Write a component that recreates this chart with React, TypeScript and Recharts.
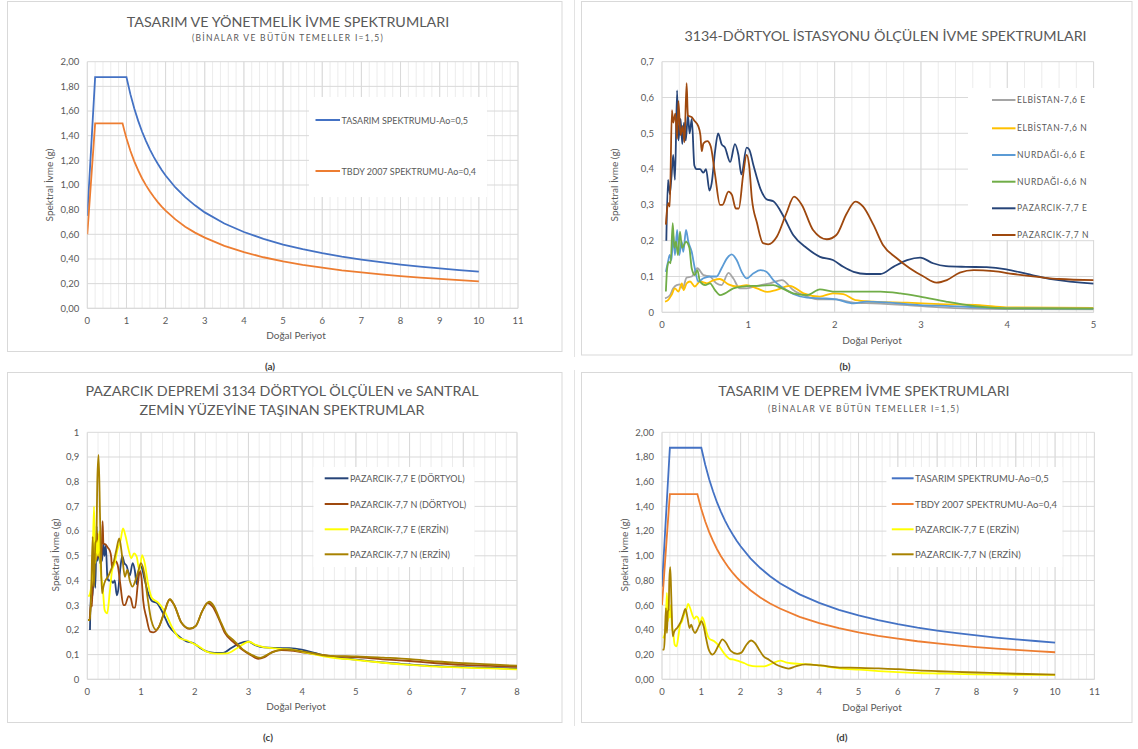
import React from 'react';
import { LineChart, Line, XAxis, YAxis, CartesianGrid } from 'recharts';

type Pt = [number, number];

// ---------- design spectra (period, Sa) ----------
const TASARIM: Pt[] = [[0,0.75],[0.2,1.875],[1.0,1.875],[1.1,1.737],[1.2,1.62],[1.3,1.52],[1.4,1.432],[1.5,1.356],[1.6,1.287],[1.7,1.226],[1.8,1.172],[1.9,1.122],[2.0,1.077],[2.25,0.98],[2.5,0.901],[2.75,0.835],[3.0,0.778],[3.5,0.688],[4.0,0.619],[4.5,0.563],[5.0,0.517],[5.5,0.479],[6.0,0.447],[6.5,0.419],[7.0,0.395],[7.5,0.374],[8.0,0.355],[8.5,0.338],[9.0,0.323],[9.5,0.31],[10.0,0.297]];
const TBDY: Pt[] = [[0,0.6],[0.2,1.5],[0.9,1.5],[0.95,1.437],[1.0,1.379],[1.1,1.278],[1.2,1.192],[1.3,1.118],[1.4,1.053],[1.5,0.997],[1.6,0.947],[1.7,0.902],[1.8,0.861],[1.9,0.825],[2.0,0.792],[2.25,0.721],[2.5,0.662],[2.75,0.614],[3.0,0.573],[3.5,0.506],[4.0,0.455],[4.5,0.414],[5.0,0.38],[5.5,0.352],[6.0,0.329],[6.5,0.308],[7.0,0.291],[7.5,0.275],[8.0,0.261],[8.5,0.249],[9.0,0.238],[9.5,0.228],[10.0,0.219]];

// ---------- 3134 Dörtyol recorded spectra ----------
const ELB_E: Pt[] = [[0.035,0.039],[0.09,0.047],[0.13,0.067],[0.17,0.076],[0.21,0.078],[0.24,0.067],[0.285,0.097],[0.345,0.1],[0.41,0.123],[0.48,0.104],[0.555,0.1],[0.63,0.081],[0.69,0.076],[0.77,0.11],[0.825,0.095],[0.9,0.067],[0.98,0.067],[1.1,0.074],[1.25,0.081],[1.39,0.09],[1.52,0.062],[1.68,0.044],[1.83,0.036],[2.02,0.036],[2.22,0.027],[2.45,0.025],[2.84,0.02],[3.22,0.014],[3.99,0.009],[5.0,0.008]];
const ELB_N: Pt[] = [[0.035,0.03],[0.07,0.034],[0.11,0.048],[0.15,0.067],[0.19,0.058],[0.23,0.081],[0.25,0.062],[0.285,0.081],[0.325,0.086],[0.38,0.072],[0.44,0.086],[0.52,0.081],[0.6,0.09],[0.67,0.093],[0.77,0.078],[0.865,0.072],[0.98,0.076],[1.1,0.067],[1.22,0.057],[1.32,0.062],[1.48,0.074],[1.64,0.053],[1.83,0.044],[1.98,0.053],[2.1,0.051],[2.24,0.034],[2.45,0.03],[2.84,0.027],[3.22,0.023],[3.68,0.02],[3.99,0.014],[5.0,0.012]];
const NUR_E: Pt[] = [[0.045,0.113],[0.07,0.141],[0.09,0.16],[0.11,0.146],[0.13,0.216],[0.15,0.16],[0.175,0.23],[0.2,0.16],[0.228,0.197],[0.247,0.169],[0.278,0.23],[0.305,0.197],[0.344,0.169],[0.38,0.123],[0.42,0.086],[0.48,0.095],[0.555,0.1],[0.633,0.1],[0.69,0.123],[0.75,0.15],[0.807,0.162],[0.865,0.146],[0.923,0.113],[0.98,0.095],[1.06,0.109],[1.14,0.118],[1.21,0.113],[1.29,0.09],[1.41,0.067],[1.52,0.051],[1.68,0.041],[1.87,0.039],[2.02,0.036],[2.22,0.025],[2.37,0.03],[2.64,0.027],[2.99,0.02],[3.29,0.018],[3.99,0.011],[5.0,0.01]];
const NUR_N: Pt[] = [[0.045,0.058],[0.06,0.123],[0.08,0.141],[0.1,0.137],[0.124,0.249],[0.143,0.18],[0.162,0.197],[0.185,0.16],[0.208,0.225],[0.232,0.18],[0.278,0.197],[0.317,0.18],[0.344,0.123],[0.38,0.104],[0.41,0.118],[0.44,0.086],[0.5,0.076],[0.556,0.081],[0.614,0.062],[0.672,0.048],[0.73,0.053],[0.826,0.067],[0.94,0.072],[1.1,0.074],[1.29,0.076],[1.39,0.067],[1.52,0.053],[1.68,0.048],[1.83,0.064],[1.98,0.058],[2.22,0.058],[2.53,0.058],[2.76,0.053],[2.99,0.044],[3.29,0.03],[3.6,0.018],[3.99,0.011],[5.0,0.01]];
const PAZ_E: Pt[] = [[0.05,0.2],[0.07,0.37],[0.09,0.33],[0.11,0.38],[0.13,0.44],[0.15,0.37],[0.175,0.62],[0.19,0.48],[0.215,0.54],[0.235,0.47],[0.255,0.53],[0.275,0.48],[0.3,0.55],[0.32,0.5],[0.345,0.54],[0.375,0.41],[0.4,0.4],[0.44,0.4],[0.48,0.39],[0.51,0.4],[0.55,0.34],[0.575,0.36],[0.615,0.45],[0.65,0.5],[0.69,0.47],[0.73,0.46],[0.79,0.42],[0.845,0.47],[0.885,0.44],[0.92,0.385],[0.98,0.46],[1.01,0.455],[1.06,0.41],[1.14,0.345],[1.21,0.316],[1.29,0.31],[1.41,0.267],[1.52,0.216],[1.68,0.179],[1.83,0.155],[1.98,0.146],[2.1,0.127],[2.22,0.113],[2.37,0.107],[2.53,0.107],[2.68,0.127],[2.84,0.146],[2.99,0.153],[3.14,0.137],[3.29,0.129],[3.52,0.127],[3.76,0.126],[3.99,0.12],[4.23,0.107],[4.53,0.092],[5.0,0.08],[5.5,0.068],[6.0,0.06],[6.5,0.053],[7.0,0.049],[7.5,0.046],[8.0,0.043]];
const PAZ_N: Pt[] = [[0.045,0.245],[0.06,0.29],[0.075,0.305],[0.09,0.295],[0.115,0.565],[0.13,0.53],[0.155,0.555],[0.175,0.485],[0.19,0.59],[0.215,0.495],[0.24,0.52],[0.26,0.475],[0.285,0.64],[0.3,0.55],[0.345,0.545],[0.375,0.535],[0.42,0.52],[0.445,0.495],[0.46,0.45],[0.48,0.472],[0.525,0.478],[0.565,0.463],[0.615,0.384],[0.672,0.3],[0.7,0.3],[0.77,0.337],[0.81,0.328],[0.855,0.29],[0.89,0.29],[0.94,0.384],[0.98,0.44],[1.01,0.41],[1.04,0.32],[1.1,0.25],[1.17,0.193],[1.23,0.19],[1.33,0.211],[1.44,0.276],[1.53,0.323],[1.62,0.3],[1.75,0.23],[1.91,0.204],[2.02,0.216],[2.14,0.276],[2.24,0.309],[2.33,0.295],[2.45,0.244],[2.56,0.188],[2.72,0.151],[2.87,0.123],[3.03,0.1],[3.18,0.083],[3.3,0.09],[3.45,0.111],[3.61,0.118],[3.84,0.115],[4.07,0.107],[4.38,0.098],[4.6,0.093],[5.0,0.09],[5.5,0.081],[6.0,0.074],[6.5,0.065],[7.0,0.058],[7.5,0.054],[8.0,0.05]];

// ---------- spectra transferred to the plant (Erzin) ----------
const ERZ_E: Pt[] = [[0.025,0.334],[0.063,0.36],[0.094,0.44],[0.125,0.7],[0.15,0.47],[0.174,0.564],[0.2,0.5],[0.224,0.6],[0.25,0.44],[0.286,0.375],[0.323,0.28],[0.37,0.267],[0.416,0.348],[0.46,0.44],[0.51,0.47],[0.56,0.523],[0.62,0.564],[0.665,0.611],[0.715,0.577],[0.77,0.523],[0.82,0.49],[0.87,0.51],[0.92,0.496],[0.97,0.44],[1.02,0.503],[1.07,0.47],[1.13,0.388],[1.2,0.33],[1.32,0.31],[1.44,0.275],[1.58,0.21],[1.72,0.166],[1.85,0.158],[1.97,0.145],[2.1,0.13],[2.22,0.112],[2.4,0.104],[2.6,0.105],[2.8,0.128],[3.01,0.152],[3.15,0.138],[3.28,0.13],[3.5,0.125],[3.78,0.121],[4.08,0.108],[4.52,0.089],[5.02,0.078],[5.51,0.067],[6.0,0.058],[6.5,0.051],[7.03,0.047],[7.5,0.044],[8.0,0.04],[9.0,0.037],[10.0,0.035]];
const ERZ_N: Pt[] = [[0.013,0.24],[0.05,0.24],[0.075,0.375],[0.1,0.577],[0.125,0.375],[0.15,0.55],[0.168,0.564],[0.187,0.807],[0.21,0.908],[0.236,0.672],[0.255,0.47],[0.274,0.348],[0.3,0.375],[0.336,0.4],[0.385,0.415],[0.435,0.44],[0.485,0.47],[0.54,0.523],[0.595,0.57],[0.65,0.496],[0.7,0.415],[0.745,0.443],[0.79,0.4],[0.84,0.375],[0.895,0.4],[0.955,0.443],[1.0,0.47],[1.06,0.43],[1.12,0.334],[1.19,0.24],[1.285,0.2],[1.33,0.211],[1.44,0.276],[1.54,0.324],[1.62,0.3],[1.75,0.23],[1.91,0.206],[2.02,0.216],[2.14,0.276],[2.27,0.314],[2.36,0.295],[2.47,0.24],[2.58,0.188],[2.72,0.159],[2.9,0.12],[3.05,0.1],[3.22,0.087],[3.4,0.105],[3.65,0.121],[4.03,0.112],[4.52,0.095],[5.02,0.093],[5.51,0.088],[6.01,0.082],[6.51,0.072],[7.03,0.065],[7.5,0.06],[8.0,0.055],[9.0,0.045],[10.0,0.038]];

// ---------- ticks ----------
const X_TICKS_11 = [0,1,2,3,4,5,6,7,8,9,10,11];
const X_TICKS_5 = [0,1,2,3,4,5];
const X_TICKS_8 = [0,1,2,3,4,5,6,7,8];
const Y_TICKS_2 = [0,0.2,0.4,0.6,0.8,1.0,1.2,1.4,1.6,1.8,2.0];
const Y_TICKS_07 = [0,0.1,0.2,0.3,0.4,0.5,0.6,0.7];
const Y_TICKS_1 = [0,0.1,0.2,0.3,0.4,0.5,0.6,0.7,0.8,0.9,1.0];

// ---------- series labels & colours ----------
const C_TAS = '#4472c4', C_TBDY = '#ed7d31', C_ELBE = '#a5a5a5', C_ELBN = '#ffc000', C_NURE = '#5b9bd5', C_NURN = '#70ad47', C_PAZE = '#264478', C_PAZN = '#9e480e', C_ERZE = '#ffff00', C_ERZN = '#a88200';
const L_TAS = 'TASARIM SPEKTRUMU-Ao=0,5';
const L_TBDY = 'TBDY 2007 SPEKTRUMU-Ao=0,4';

const FONT = 'Lato, "Open Sans", "DejaVu Sans", sans-serif';
const TXT = '#595959';
const tickStyle = { fill: TXT, fontSize: 9.5, fontFamily: FONT };

const toData = (pts: Pt[], max = 1e9) => pts.filter((p) => p[0] <= max + 1e-9).map(([x, y]) => ({ x, y }));
const fmt2 = (v: number) => v.toFixed(2).replace('.', ',');
const fmt1 = (v: number) => (Math.abs(v) < 1e-9 ? '0' : Math.abs(v - 1) < 1e-9 ? '1' : v.toFixed(1).replace('.', ','));

function minorGen(step: number, max: number) {
  const vals: number[] = [];
  for (let i = 0; i * step <= max + 1e-9; i++) vals.push(+(i * step).toFixed(4));
  return (props: any) => {
    const { xAxis, offset } = props || {};
    if (xAxis && typeof xAxis.scale === 'function') {
      const r = vals.map((v) => xAxis.scale(v)).filter((v: any) => typeof v === 'number' && isFinite(v));
      if (r.length === vals.length) return r;
    }
    return vals.map((v) => offset.left + (v / max) * offset.width);
  };
}

const minor11 = minorGen(0.2, 11);
const minor5 = minorGen(0.2, 5);
const minor8 = minorGen(0.2, 8);

const lineProps = { dataKey: 'y', dot: false, isAnimationActive: false, strokeWidth: 1.8 } as const;

type LegendItem = { name: string; color: string };
function LegendBox({ x, y, w, h, rows, lx1, lx2, items, size = 9, spacing = 0 }: { x: number; y: number; w: number; h: number; rows: number[]; lx1: number; lx2: number; items: LegendItem[]; size?: number; spacing?: number }) {
  return (
    <g>
      <rect x={x} y={y} width={w} height={h} fill="#ffffff" />
      {items.map((it, i) => (
        <g key={it.name}>
          <line x1={lx1} x2={lx2} y1={rows[i]} y2={rows[i]} stroke={it.color} strokeWidth={2} />
          <text x={lx2 + 1.5} y={rows[i]} dominantBaseline="central" fontSize={size} letterSpacing={spacing} fill={TXT} fontFamily={FONT}>{it.name}</text>
        </g>
      ))}
    </g>
  );
}

const T = (props: any) => <text fill={TXT} fontFamily={FONT} textAnchor="middle" dominantBaseline="central" {...props} />;

export default function App() {
  const axisX = { dataKey: 'x', type: 'number' as const, height: 25, tickLine: false, axisLine: { stroke: '#d9d9d9' }, tick: tickStyle, tickMargin: 3, interval: 0 as const, allowDataOverflow: true };
  const axisY = { type: 'number' as const, width: 60, tickLine: false, axisLine: false, tick: tickStyle, interval: 0 as const, tickMargin: 2 };
  return (
    <div style={{ position: 'absolute', left: 0, top: 0, width: 1138, height: 749, background: '#ffffff', fontFamily: FONT }}>
      {/* background: frames, titles, axis titles, captions */}
      <svg width={1138} height={749} style={{ position: 'absolute', left: 0, top: 0 }}>
        <rect x={7.5} y={1.5} width={554.5} height={350} fill="none" stroke="#d9d9d9" />
        <rect x={581.5} y={1.5} width={550.5} height={353.5} fill="none" stroke="#d9d9d9" />
        <rect x={7.5} y={372.5} width={554.5} height={350} fill="none" stroke="#d9d9d9" />
        <rect x={581.5} y={372.5} width={550.5} height={350} fill="none" stroke="#d9d9d9" />
        <line x1={574.5} x2={574.5} y1={0} y2={357} stroke="#e3e3e3" />
        <line x1={574.5} x2={574.5} y1={370} y2={726} stroke="#e3e3e3" />

        <T x={288} y={21} fontSize={14.3}>TASARIM VE YÖNETMELİK İVME SPEKTRUMLARI</T>
        <T x={288} y={37.5} fontSize={8.5} letterSpacing={1.3}>(BİNALAR VE BÜTÜN TEMELLER I=1,5)</T>
        <T x={49} y={185} fontSize={10} transform="rotate(-90 49 185)">Spektral İvme (g)</T>
        <T x={296} y={335} fontSize={10}>Doğal Periyot</T>
        <T x={270} y={366} fontSize={10} fontWeight="bold" fill="#404040">(a)</T>

        <T x={885.5} y={35} fontSize={14.3}>3134-DÖRTYOL İSTASYONU ÖLÇÜLEN İVME SPEKTRUMLARI</T>
        <T x={613.5} y={185} fontSize={10} transform="rotate(-90 613.5 185)">Spektral İvme (g)</T>
        <T x={872} y={340} fontSize={10}>Doğal Periyot</T>
        <T x={845} y={366} fontSize={10} fontWeight="bold" fill="#404040">(b)</T>

        <T x={282} y={390} fontSize={14.3}>PAZARCIK DEPREMİ 3134 DÖRTYOL ÖLÇÜLEN ve SANTRAL</T>
        <T x={282} y={409.5} fontSize={14.3}>ZEMİN YÜZEYİNE TAŞINAN SPEKTRUMLAR</T>
        <T x={54.5} y={555} fontSize={10} transform="rotate(-90 54.5 555)">Spektral İvme (g)</T>
        <T x={296} y={706} fontSize={10}>Doğal Periyot</T>
        <T x={268} y={737} fontSize={10} fontWeight="bold" fill="#404040">(c)</T>

        <T x={864} y={390.5} fontSize={14.3}>TASARIM VE DEPREM İVME SPEKTRUMLARI</T>
        <T x={864} y={408.5} fontSize={8.5} letterSpacing={1.3}>(BİNALAR VE BÜTÜN TEMELLER I=1,5)</T>
        <T x={624} y={555} fontSize={10} transform="rotate(-90 624 555)">Spektral İvme (g)</T>
        <T x={872} y={706.5} fontSize={10}>Doğal Periyot</T>
        <T x={842} y={737} fontSize={10} fontWeight="bold" fill="#404040">(d)</T>
      </svg>

      {/* (a) */}
      <div style={{ position: 'absolute', left: 7, top: 2 }}>
        <LineChart width={555} height={350} margin={{ top: 59.7, right: 44, bottom: 18.7, left: 20.3 }}>
          <CartesianGrid horizontal={false} verticalCoordinatesGenerator={minor11} stroke="#ececec" />
          <CartesianGrid stroke="#d9d9d9" />
          <XAxis {...axisX} domain={[0, 11]} ticks={X_TICKS_11} />
          <YAxis {...axisY} domain={[0, 2]} ticks={Y_TICKS_2} tickFormatter={fmt2} />
          <Line {...lineProps} data={toData(TASARIM)} stroke={C_TAS} type="linear" name={L_TAS} />
          <Line {...lineProps} data={toData(TBDY)} stroke={C_TBDY} type="linear" name={L_TBDY} />
        </LineChart>
      </div>

      {/* (b) */}
      <div style={{ position: 'absolute', left: 581, top: 2 }}>
        <LineChart width={551} height={353} margin={{ top: 59.7, right: 38.4, bottom: 17.7, left: 21 }}>
          <CartesianGrid horizontal={false} verticalCoordinatesGenerator={minor5} stroke="#ececec" />
          <CartesianGrid stroke="#d9d9d9" />
          <XAxis {...axisX} domain={[0, 5]} ticks={X_TICKS_5} />
          <YAxis {...axisY} domain={[0, 0.7]} ticks={Y_TICKS_07} tickFormatter={fmt1} />
          <Line {...lineProps} data={toData(ELB_E, 5)} stroke={C_ELBE} type="monotone" />
          <Line {...lineProps} data={toData(ELB_N, 5)} stroke={C_ELBN} type="monotone" />
          <Line {...lineProps} data={toData(NUR_E, 5)} stroke={C_NURE} type="monotone" />
          <Line {...lineProps} data={toData(NUR_N, 5)} stroke={C_NURN} type="monotone" />
          <Line {...lineProps} data={toData(PAZ_E, 5)} stroke={C_PAZE} type="monotone" />
          <Line {...lineProps} data={toData(PAZ_N, 5)} stroke={C_PAZN} type="monotone" />
        </LineChart>
      </div>

      {/* (c) */}
      <div style={{ position: 'absolute', left: 7, top: 373 }}>
        <LineChart width={555} height={350} margin={{ top: 59.3, right: 45, bottom: 18.7, left: 20.3 }}>
          <CartesianGrid horizontal={false} verticalCoordinatesGenerator={minor8} stroke="#ececec" />
          <CartesianGrid stroke="#d9d9d9" />
          <XAxis {...axisX} domain={[0, 8]} ticks={X_TICKS_8} />
          <YAxis {...axisY} domain={[0, 1]} ticks={Y_TICKS_1} tickFormatter={fmt1} />
          <Line {...lineProps} data={toData(PAZ_E, 8)} stroke={C_PAZE} type="monotone" />
          <Line {...lineProps} data={toData(PAZ_N, 8)} stroke={C_PAZN} type="monotone" />
          <Line {...lineProps} data={toData(ERZ_E, 8)} stroke={C_ERZE} type="monotone" />
          <Line {...lineProps} data={toData(ERZ_N, 8)} stroke={C_ERZN} type="monotone" />
        </LineChart>
      </div>

      {/* (d) */}
      <div style={{ position: 'absolute', left: 581, top: 373 }}>
        <LineChart width={551} height={350} margin={{ top: 59.3, right: 37.6, bottom: 18.7, left: 21 }}>
          <CartesianGrid horizontal={false} verticalCoordinatesGenerator={minor11} stroke="#ececec" />
          <CartesianGrid stroke="#d9d9d9" />
          <XAxis {...axisX} domain={[0, 11]} ticks={X_TICKS_11} />
          <YAxis {...axisY} domain={[0, 2]} ticks={Y_TICKS_2} tickFormatter={fmt2} />
          <Line {...lineProps} data={toData(TASARIM)} stroke={C_TAS} type="linear" />
          <Line {...lineProps} data={toData(TBDY)} stroke={C_TBDY} type="linear" />
          <Line {...lineProps} data={toData(ERZ_E)} stroke={C_ERZE} type="monotone" />
          <Line {...lineProps} data={toData(ERZ_N)} stroke={C_ERZN} type="monotone" />
        </LineChart>
      </div>

      {/* legends (on top of the grids) */}
      <svg width={1138} height={749} style={{ position: 'absolute', left: 0, top: 0, pointerEvents: 'none' }}>
        <LegendBox x={309} y={97} w={178} h={100} rows={[120, 171]} lx1={315.5} lx2={340} items={[{ name: L_TAS, color: C_TAS }, { name: L_TBDY, color: C_TBDY }]} />
        <LegendBox x={968} y={88} w={127} h={152} rows={[100, 128.3, 155, 181.7, 208.3, 235]} lx1={992} lx2={1015.5} size={8.5} spacing={0.6}
          items={[{ name: 'ELBİSTAN-7,6 E', color: C_ELBE }, { name: 'ELBİSTAN-7,6 N', color: C_ELBN }, { name: 'NURDAĞI-6,6 E', color: C_NURE }, { name: 'NURDAĞI-6,6 N', color: C_NURN }, { name: 'PAZARCIK-7,7 E', color: C_PAZE }, { name: 'PAZARCIK-7,7 N', color: C_PAZN }]} />
        <LegendBox x={313.5} y={467} w={161} h={100} rows={[478.3, 504, 529.3, 554.3]} lx1={324.7} lx2={348.4}
          items={[{ name: 'PAZARCIK-7,7 E (DÖRTYOL)', color: C_PAZE }, { name: 'PAZARCIK-7,7 N (DÖRTYOL)', color: C_PAZN }, { name: 'PAZARCIK-7,7 E (ERZİN)', color: C_ERZE }, { name: 'PAZARCIK-7,7 N (ERZİN)', color: C_ERZN }]} />
        <LegendBox x={886.4} y={467} w={176} h={100} rows={[478.3, 504, 529.3, 554.3]} lx1={891.8} lx2={913.6} size={9.5}
          items={[{ name: L_TAS, color: C_TAS }, { name: L_TBDY, color: C_TBDY }, { name: 'PAZARCIK-7,7 E (ERZİN)', color: C_ERZE }, { name: 'PAZARCIK-7,7 N (ERZİN)', color: C_ERZN }]} />
      </svg>
    </div>
  );
}
